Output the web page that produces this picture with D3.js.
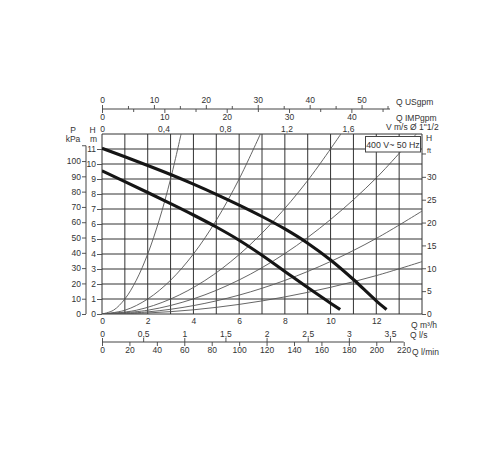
<!DOCTYPE html>
<html><head><meta charset="utf-8">
<script src="https://cdn.jsdelivr.net/npm/d3@7"></script>
<style>
body{margin:0;background:#fff}
svg{display:block}
text{font-family:"Liberation Sans",Arial,sans-serif;fill:#333}
</style>
</head><body>
<svg id="c" width="500" height="450"></svg>
<script>
// ---- tick values ----
const flowTicks = [0, 2, 4, 6, 8, 10, 12];
const headTicksM = [0, 1, 2, 3, 4, 5, 6, 7, 8, 9, 10, 11];
const kpaTicks = [0, 10, 20, 30, 40, 50, 60, 70, 80, 90, 100];
const kpaExtraTick = [110];
const ftTicks = [0, 5, 10, 15, 20, 25, 30];
const ftExtraTick = [35];
const usgpmTicks = [0, 10, 20, 30, 40, 50];
const usgpmMinor = [5, 15, 25, 35, 45, 55];
const impgpmTicks = [0, 10, 20, 30, 40];
const impgpmMinor = [5, 15, 25, 35, 45];
const velTicks = [0, 0.4, 0.8, 1.2, 1.6];
const lpsTicks = [0, 0.5, 1, 1.5, 2, 2.5, 3, 3.5];
const lminTicks = [0, 20, 40, 60, 80, 100, 120, 140, 160, 180, 200, 220];

// ---- pump curves (Q m3/h, H m) ----
const pumpHighQ = [0, 1, 2, 3, 4, 5, 6, 7, 8, 9, 10, 11, 12, 12.45];
const pumpHighH = [11.05, 10.48, 9.9, 9.3, 8.66, 7.98, 7.26, 6.5, 5.67, 4.72, 3.6, 2.3, 0.88, 0.3];
const pumpLowQ = [0, 1, 2, 3, 4, 5, 6, 7, 8, 9, 10, 10.42];
const pumpLowH = [9.55, 8.83, 8.1, 7.36, 6.6, 5.8, 4.92, 3.92, 2.84, 1.76, 0.72, 0.3];

// ---- system curves (Q m3/h, H m) ----
const sys1Q = [0, 0.5, 1, 1.5, 2, 2.5, 3, 3.46];
const sys1H = [0, 0.25, 1, 2.25, 4, 6.25, 9, 12];
const sys2Q = [0, 1, 2, 3, 4, 5, 6, 6.93];
const sys2H = [0, 0.25, 1, 2.25, 4, 6.25, 9, 12];
const sys3Q = [0, 1.5, 3, 4.5, 6, 7.5, 9, 10.45];
const sys3H = [0, 0.25, 1, 2.23, 3.96, 6.19, 8.9, 12];
const sys4Q = [0, 2, 4, 6, 8, 10, 12, 13.75];
const sys4H = [0, 0.25, 1.01, 2.27, 4.03, 6.3, 9.07, 12];
const sys5Q = [0, 2, 4, 6, 8, 10, 12, 14];
const sys5H = [0, 0.14, 0.56, 1.26, 2.24, 3.5, 5.04, 6.86];
const sys6Q = [0, 2, 4, 6, 8, 10, 12, 14];
const sys6H = [0, 0.07, 0.28, 0.64, 1.14, 1.78, 2.56, 3.49];
const systemCurves = [[sys1Q, sys1H], [sys2Q, sys2H], [sys3Q, sys3H], [sys4Q, sys4H], [sys5Q, sys5H], [sys6Q, sys6H]];

const legendText = "400 V~ 50 Hz";

// ---- scales ----
const X0 = 102, X1 = 422, Y0 = 314, Y1 = 134;
const x = d3.scaleLinear().domain([0, 14]).range([X0, X1]);
const y = d3.scaleLinear().domain([0, 12]).range([Y0, Y1]);
const xUS = d3.scaleLinear().domain([0, 14 * 4.40287]).range([X0, X1]);
const xIMP = d3.scaleLinear().domain([0, 14 * 3.66615]).range([X0, X1]);
const xV = d3.scaleLinear().domain([0, 14 * 0.4 / 2.69]).range([X0, X1]);
const xLs = d3.scaleLinear().domain([0, 14 / 3.6]).range([X0, X1]);
const xLm = d3.scaleLinear().domain([0, 14 * 1000 / 60]).range([X0, X1]);
const yK = d3.scaleLinear().domain([0, 12 * 9.80665]).range([Y0, Y1]);
const yF = d3.scaleLinear().domain([0, 12 / 0.3048]).range([Y0, Y1]);

const comma = d => String(d).replace(".", ",");
const svg = d3.select("#c");
svg.append("rect").attr("width", 500).attr("height", 450).attr("fill", "#fff");

const FS = 8.5, TC = "#444";
function style(g) {
  g.select(".domain").remove();
  g.selectAll("line").attr("stroke", TC).attr("stroke-width", 0.9);
  g.selectAll("text").attr("font-size", FS).attr("fill", "#333")
    .attr("font-family", '"Liberation Sans",Arial,sans-serif');
  return g;
}

// ---- grid ----
const grid = svg.append("g");
grid.selectAll("line.v").data(d3.range(0, 15)).join("line")
  .attr("x1", d => x(d)).attr("x2", d => x(d)).attr("y1", Y1).attr("y2", Y0)
  .attr("stroke", "#333").attr("stroke-width", 1);
grid.selectAll("line.h").data(d3.range(0, 13)).join("line")
  .attr("class", "h")
  .attr("x1", X0).attr("x2", X1).attr("y1", d => y(d)).attr("y2", d => y(d))
  .attr("stroke", "#333").attr("stroke-width", 1);

// ---- curves ----
svg.append("clipPath").attr("id", "clip").append("rect")
  .attr("x", X0).attr("y", Y1).attr("width", X1 - X0).attr("height", Y0 - Y1);
const sysLine = d3.line().x(d => x(d[0])).y(d => y(d[1])).curve(d3.curveCatmullRom.alpha(0.5));
const pumpLine = d3.line().x(d => x(d[0])).y(d => y(d[1])).curve(d3.curveMonotoneX);
const cg = svg.append("g").attr("clip-path", "url(#clip)");
systemCurves.forEach(([q, h]) => {
  cg.append("path").datum(q.map((v, i) => [v, h[i]])).attr("d", sysLine)
    .attr("fill", "none").attr("stroke", "#555").attr("stroke-width", 0.9);
});
[[pumpHighQ, pumpHighH], [pumpLowQ, pumpLowH]].forEach(([q, h]) => {
  cg.append("path").datum(q.map((v, i) => [v, h[i]])).attr("d", pumpLine)
    .attr("fill", "none").attr("stroke", "#151515").attr("stroke-width", 3.1)
    .attr("stroke-linecap", "butt");
});

// ---- axes ----
// bottom m3/h
style(svg.append("g").attr("transform", `translate(0,${Y0})`)
  .call(d3.axisBottom(x).tickValues(flowTicks).tickSize(0).tickPadding(4)));
svg.append("text").attr("x", 411).attr("y", 327.5).attr("font-size", FS).html("Q m³/h");

// left H m
style(svg.append("g").attr("transform", `translate(${X0},0)`)
  .call(d3.axisLeft(y).tickValues(headTicksM).tickSize(5).tickPadding(1)));
svg.append("text").attr("x", 92.5).attr("y", 133).attr("font-size", FS).attr("text-anchor", "middle").text("H");
svg.append("text").attr("x", 93.5).attr("y", 141.5).attr("font-size", FS).attr("text-anchor", "middle").text("m");

// left kPa
style(svg.append("g").attr("transform", "translate(86,0)")
  .call(d3.axisLeft(yK).tickValues(kpaTicks).tickSize(4).tickPadding(1)));
svg.selectAll("line.kx").data(kpaExtraTick).join("line").attr("class", "kx")
  .attr("x1", 82).attr("x2", 86).attr("y1", d => yK(d)).attr("y2", d => yK(d))
  .attr("stroke", TC).attr("stroke-width", 0.9);
svg.append("line").attr("x1", 86).attr("x2", 86).attr("y1", yK(0)).attr("y2", yK(110))
  .attr("stroke", TC).attr("stroke-width", 1);
svg.append("text").attr("x", 73).attr("y", 133).attr("font-size", FS).attr("text-anchor", "middle").text("P");
svg.append("text").attr("x", 73).attr("y", 141.5).attr("font-size", FS).attr("text-anchor", "middle").text("kPa");

// right ft
style(svg.append("g").attr("transform", `translate(${X1},0)`)
  .call(d3.axisRight(yF).tickValues(ftTicks).tickSize(4).tickPadding(1)));
svg.selectAll("line.fx").data(ftExtraTick).join("line").attr("class", "fx")
  .attr("x1", X1).attr("x2", X1 + 4).attr("y1", d => yF(d)).attr("y2", d => yF(d))
  .attr("stroke", TC).attr("stroke-width", 0.9);
svg.append("text").attr("x", 426).attr("y", 141).attr("font-size", FS).text("H");
svg.append("text").attr("x", 427).attr("y", 152.5).attr("font-size", 7).text("ft");

// top USgpm / IMPgpm
const TY = 109;
svg.append("line").attr("x1", X0).attr("x2", 390).attr("y1", TY).attr("y2", TY)
  .attr("stroke", TC).attr("stroke-width", 1);
style(svg.append("g").attr("transform", `translate(0,${TY})`)
  .call(d3.axisTop(xUS).tickValues(usgpmTicks).tickSize(4).tickPadding(2)));
style(svg.append("g").attr("transform", `translate(0,${TY})`)
  .call(d3.axisTop(xUS).tickValues(usgpmMinor).tickFormat("").tickSize(3)));
style(svg.append("g").attr("transform", `translate(0,${TY})`)
  .call(d3.axisBottom(xIMP).tickValues(impgpmTicks).tickSize(4).tickPadding(1)));
style(svg.append("g").attr("transform", `translate(0,${TY})`)
  .call(d3.axisBottom(xIMP).tickValues(impgpmMinor).tickFormat("").tickSize(3)));
svg.append("text").attr("x", 396).attr("y", 104.5).attr("font-size", FS).text("Q USgpm");
svg.append("text").attr("x", 396).attr("y", 120.5).attr("font-size", FS).text("Q IMPgpm");

// velocity
style(svg.append("g").attr("transform", `translate(0,${Y1})`)
  .call(d3.axisTop(xV).tickValues(velTicks).tickFormat(comma).tickSize(0).tickPadding(2)));
svg.append("text").attr("x", 386).attr("y", 129.5).attr("font-size", FS).text("V m/s Ø 1\"1/2");

// bottom l/s and l/min
const BY = 342;
svg.append("line").attr("x1", X0).attr("x2", xLm(220)).attr("y1", BY).attr("y2", BY)
  .attr("stroke", TC).attr("stroke-width", 1);
style(svg.append("g").attr("transform", `translate(0,${BY})`)
  .call(d3.axisTop(xLs).tickValues(lpsTicks).tickFormat(comma).tickSize(4).tickPadding(1)));
style(svg.append("g").attr("transform", `translate(0,${BY})`)
  .call(d3.axisBottom(xLm).tickValues(lminTicks).tickSize(4).tickPadding(1)));
svg.append("text").attr("x", 410).attr("y", 337.5).attr("font-size", FS).text("Q l/s");
svg.append("text").attr("x", 412).attr("y", 354.5).attr("font-size", FS).text("Q l/min");

// legend box
svg.append("rect").attr("x", 365.5).attr("y", 136.5).attr("width", 55).attr("height", 15.5)
  .attr("fill", "#fff").attr("stroke", "#444").attr("stroke-width", 1);
svg.append("text").attr("x", 393).attr("y", 147.5).attr("font-size", 8.8)
  .attr("text-anchor", "middle").text(legendText);
</script>
</body></html>
